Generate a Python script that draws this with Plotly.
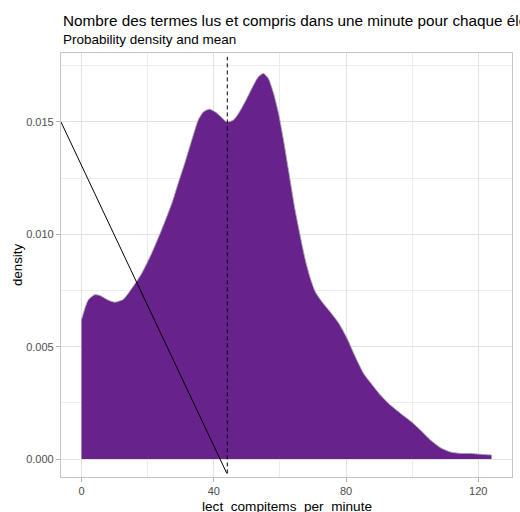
import plotly.graph_objects as go

# Kernel density estimate of reading speed (items read and understood per minute)
speed = [0, 2.0, 4.0, 5.5, 8.1, 10.1, 12.6, 15.2, 18.2, 21.2, 24.2, 27.3, 29.3,
         31.3, 33.8, 35.3, 36.9, 38.7, 40.4, 42.4, 43.9, 45.9, 47.5, 49.5, 51.5,
         53.5, 55.0, 56.5, 58.1, 59.6, 61.1, 62.6, 64.6, 66.2, 67.7, 69.2, 70.7,
         72.7, 75.2, 77.8, 80.3, 82.8, 85.3, 87.4, 90.4, 93.4, 96.5, 99.5, 102.5,
         105.5, 108.6, 111.6, 114.6, 117.7, 120.7, 124.0]
density = [0.0062, 0.00707, 0.00731, 0.00728, 0.00707, 0.00698, 0.0071, 0.00759,
           0.00826, 0.00915, 0.01019, 0.01137, 0.0123, 0.0132, 0.01441, 0.01508,
           0.01545, 0.01557, 0.01545, 0.0152, 0.0150, 0.01508, 0.01538, 0.0159,
           0.01649, 0.01701, 0.01716, 0.01694, 0.01627, 0.01538, 0.01419, 0.01286,
           0.01108, 0.00989, 0.00885, 0.00804, 0.00744, 0.0070, 0.00655, 0.00604,
           0.00537, 0.00455, 0.00381, 0.0034, 0.00285, 0.0024, 0.00203, 0.00169,
           0.00129, 0.00085, 0.0005, 0.00031, 0.00025, 0.00025, 0.00021, 0.00018]

mean_speed = 44.1
mean_line_y = [-0.00064, 0.0179]
diag_x = [-6.2, 43.95]
diag_y = [0.0150, -0.00064]

x_ticks = [0, 40, 80, 120]
y_ticks = [0.000, 0.005, 0.010, 0.015]
y_tick_text = ["0.000", "0.005", "0.010", "0.015"]

title = "Nombre des termes lus et compris dans une minute pour chaque élève"
subtitle = "Probability density and mean"
x_title = "lect_compitems_per_minute"
y_title = "density"

FONT = "Liberation Sans, Arial, sans-serif"
FILL = "#68228B"

fig = go.Figure()

# filled area under the density
fig.add_trace(go.Scatter(
    x=speed, y=density, mode="lines", fill="tozeroy", fillcolor=FILL,
    line=dict(color="rgba(0,0,0,0)", width=0, shape="spline", smoothing=0.6),
    hoverinfo="skip", showlegend=False))
# grey outline along the top of the density
fig.add_trace(go.Scatter(
    x=speed, y=density, mode="lines",
    line=dict(color="rgba(165,165,165,0.85)", width=1, shape="spline", smoothing=0.6),
    showlegend=False))
# mean marker
fig.add_trace(go.Scatter(
    x=[mean_speed, mean_speed], y=mean_line_y, mode="lines",
    line=dict(color="black", width=1, dash="4px,3px"), showlegend=False))
fig.add_trace(go.Scatter(
    x=diag_x, y=diag_y, mode="lines",
    line=dict(color="black", width=1), showlegend=False))

axis_common = dict(
    showline=True, mirror=True, linecolor="#c4c4c4", linewidth=1.2,
    gridcolor="#e2e2e2", gridwidth=1, zeroline=False,
    ticks="outside", ticklen=4, tickcolor="#b3b3b3", tickwidth=1,
    tickfont=dict(family=FONT, size=11, color="#4d4d4d"),
)

fig.update_xaxes(
    range=[-6.2, 130.2], tickmode="array", tickvals=x_ticks,
    minor=dict(tickvals=[20, 60, 100], showgrid=True, gridcolor="#ececec",
               gridwidth=0.7, ticks=""),
    **axis_common)
fig.update_yaxes(
    range=[-0.0008, 0.01807], tickmode="array", tickvals=y_ticks,
    ticktext=y_tick_text,
    minor=dict(tickvals=[0.0025, 0.0075, 0.0125, 0.0175], showgrid=True,
               gridcolor="#ececec", gridwidth=0.7, ticks=""),
    **axis_common)

fig.update_layout(
    width=520, height=512,
    margin=dict(l=61, r=8, t=53, b=35),
    paper_bgcolor="white", plot_bgcolor="white",
    font=dict(family=FONT, color="black"),
    showlegend=False,
    annotations=[
        dict(text=title, xref="paper", yref="paper", x=0, y=1 + (53 - 20) / 424,
             xanchor="left", yanchor="middle", showarrow=False,
             font=dict(family=FONT, size=15.3, color="black")),
        dict(text=subtitle, xref="paper", yref="paper", x=0, y=1 + (53 - 40) / 424,
             xanchor="left", yanchor="middle", showarrow=False,
             font=dict(family=FONT, size=13.5, color="black")),
        dict(text=x_title, xref="paper", yref="paper", x=0.5, y=-(506 - 477) / 424,
             xanchor="center", yanchor="middle", showarrow=False,
             font=dict(family=FONT, size=13.6, color="black")),
        dict(text=y_title, xref="paper", yref="paper", x=-(61 - 17) / 451, y=0.5,
             xanchor="center", yanchor="middle", textangle=-90, showarrow=False,
             font=dict(family=FONT, size=13.3, color="black")),
    ],
)

fig.write_html("out.html")
